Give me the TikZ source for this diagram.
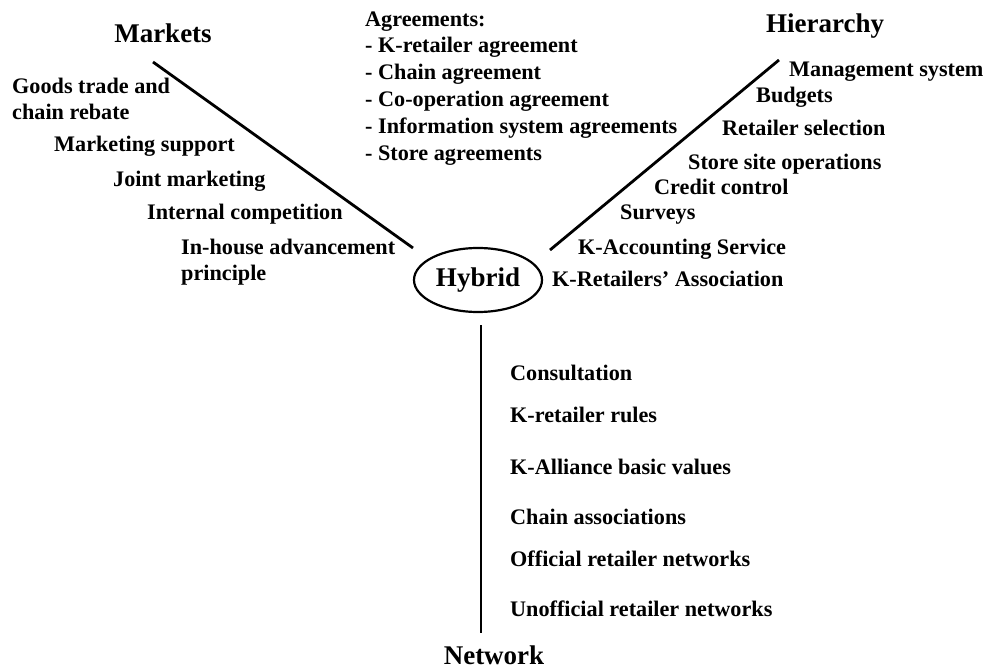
\documentclass[tikz,border=0pt]{standalone}
\usepackage{fontspec}
\setmainfont{Liberation Serif}
\usetikzlibrary{shapes.geometric}
\tikzset{
  title/.style={font=\fontsize{27}{30}\selectfont\bfseries, inner sep=0pt, anchor=base},
  item/.style={font=\fontsize{22.2}{25}\selectfont\bfseries, inner sep=0pt, anchor=base west},
  spoke/.style={line width=2.8pt},
}
\begin{document}
\begin{tikzpicture}[x=1pt,y=-1pt]
\useasboundingbox (0,0) rectangle (985,668);
% titles
\node[title] (markets) at (163,43) {Markets};
\node[title] (hierarchy) at (825,33) {Hierarchy};
\node[title] (network) at (494,664) {Network};
\node[draw, ellipse, line width=2.2pt, minimum width=128pt, minimum height=64pt,
      inner sep=0pt, font=\fontsize{27}{30}\selectfont\bfseries] (hybrid) at (478,280) {Hybrid};
% spoke end points
\coordinate (m1) at (153,62);
\coordinate (m2) at (413,248);
\coordinate (h1) at (779,60);
\coordinate (h2) at (550,250);
\coordinate (n1) at (481,325);
\coordinate (n2) at (481,633);
\draw[spoke] (m1) -- (m2);
\draw[spoke] (h1) -- (h2);
\draw[spoke] (n1) -- (n2);
% markets items
\node[item] (g1) at (12,94) {Goods trade and};
\node[item] (g2) at (12,120) {chain rebate};
\node[item] (ms) at (54,152) {Marketing support};
\node[item] (jm) at (113,187) {Joint marketing};
\node[item] (ic) at (147,220) {Internal competition};
\node[item] (ih1) at (181,255) {In-house advancement};
\node[item] (ih2) at (181,281) {principle};
% agreements
\node[item] (a0) at (365,27) {Agreements:};
\node[item] (a1) at (365,53) {- K-retailer agreement};
\node[item] (a2) at (365,80) {- Chain agreement};
\node[item] (a3) at (365,107) {- Co-operation agreement};
\node[item] (a4) at (365,134) {- Information system agreements};
\node[item] (a5) at (365,161) {- Store agreements};
% hierarchy items
\node[item] (h_ms) at (789,77) {Management system};
\node[item] (h_bu) at (756,103) {Budgets};
\node[item] (h_rs) at (722,136) {Retailer selection};
\node[item] (h_ss) at (688,170) {Store site operations};
\node[item] (h_cc) at (654,195) {Credit control};
\node[item] (h_su) at (620,220) {Surveys};
\node[item] (h_ka) at (578,255) {K-Accounting Service};
\node[item] (h_kr) at (552,287) {K-Retailers’ Association};
% network items
\node[item] (n_co) at (510,380) {Consultation};
\node[item] (n_kr) at (510,422) {K-retailer rules};
\node[item] (n_ka) at (510,474) {K-Alliance basic values};
\node[item] (n_ca) at (510,524) {Chain associations};
\node[item] (n_of) at (510,566) {Official retailer networks};
\node[item] (n_un) at (510,616) {Unofficial retailer networks};
\end{tikzpicture}
\end{document}
